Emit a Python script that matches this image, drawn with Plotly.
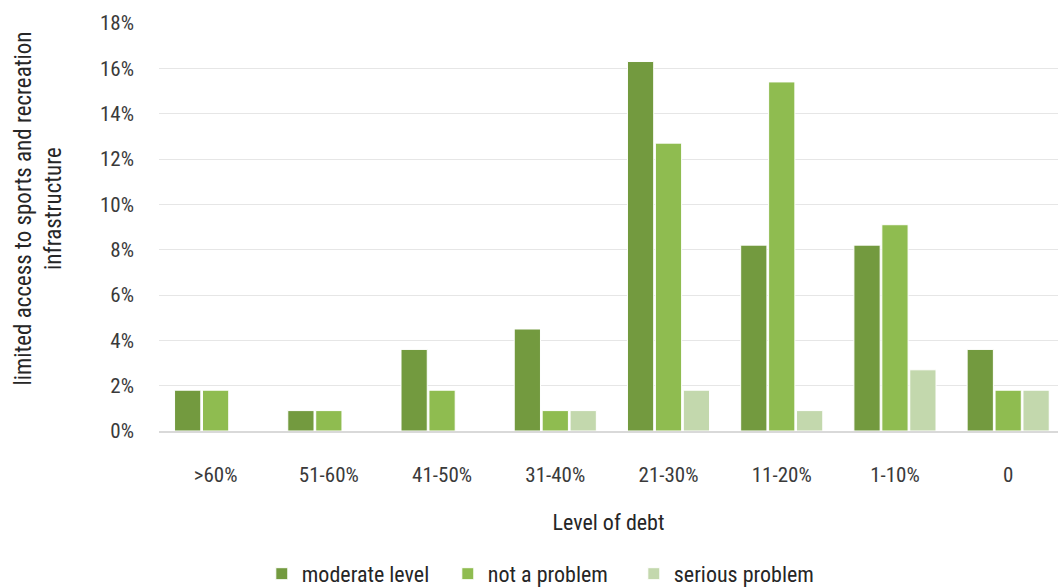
import plotly.graph_objects as go

categories = [">60%", "51-60%", "41-50%", "31-40%", "21-30%", "11-20%", "1-10%", "0"]
moderate_level = [1.8, 0.9, 3.6, 4.5, 16.3, 8.2, 8.2, 3.6]
not_a_problem = [1.8, 0.9, 1.8, 0.9, 12.7, 15.4, 9.1, 1.8]
serious_problem = [0.0, 0.0, 0.0, 0.9, 1.8, 0.9, 2.7, 1.8]
y_ticks = [0, 2, 4, 6, 8, 10, 12, 14, 16, 18]

FONT = "Roboto Condensed, Liberation Sans Narrow, Roboto, sans-serif"

series = [
    ("moderate level", moderate_level, "#739a3f"),
    ("not a problem", not_a_problem, "#8fbc50"),
    ("serious problem", serious_problem, "#c3d8ad"),
]

fig = go.Figure()
for name, vals, col in series:
    fig.add_trace(go.Bar(
        x=categories, y=vals, name=name,
        marker=dict(color=col, line=dict(color="white", width=1)),
    ))

fig.update_layout(
    width=1058, height=588,
    margin=dict(l=159, r=0, t=23, b=157),
    paper_bgcolor="white", plot_bgcolor="white",
    barmode="group", bargap=0.26, bargroupgap=0.06,
    font=dict(family=FONT, size=21, color="#404040"),
    showlegend=True,
    legend=dict(orientation="h", x=0.4247, xanchor="center", xref="paper",
                yref="container", y=0.024, yanchor="middle",
                font=dict(size=22, color="#262626"), itemwidth=30, traceorder="normal",
                entrywidth=141),
    xaxis=dict(
        range=[-0.5, 7.44], showgrid=False, showline=True, linecolor="#d9d9d9", linewidth=2,
        ticks="", ticklabelstandoff=24, tickfont=dict(size=21, color="#3a3a3a"),
        title=dict(text="Level of debt", font=dict(size=22, color="#262626"), standoff=28),
    ),
    yaxis=dict(
        range=[0, 18], tickvals=y_ticks, ticktext=[f"{v}%" for v in y_ticks],
        showgrid=True, gridcolor="#e6e6e6", gridwidth=1, zeroline=False,
        ticks="", ticklabelstandoff=24, tickfont=dict(size=21, color="#3a3a3a"),
    ),
    annotations=[dict(
        text="limited access to sports and recreation<br>infrastructure",
        xref="paper", yref="paper", x=-0.1335, y=0.545, xanchor="center", yanchor="middle",
        textangle=-90, showarrow=False, font=dict(size=23, color="#262626"),
    )],
)

fig.write_html("out.html")
